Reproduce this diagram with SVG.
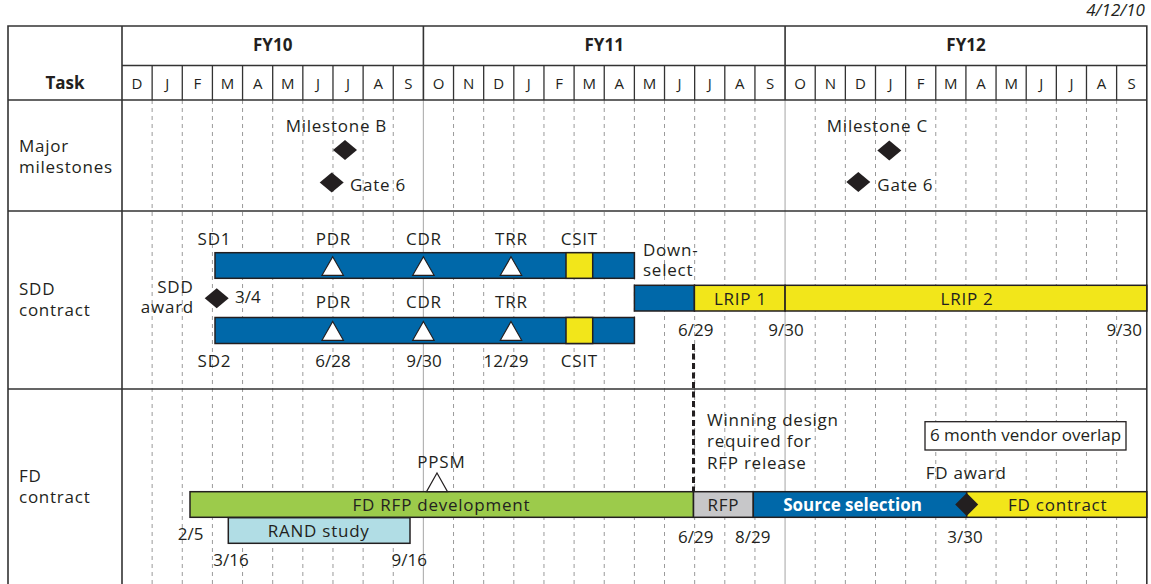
<svg xmlns="http://www.w3.org/2000/svg" width="1151" height="584" viewBox="0 0 1151 584">
<defs>
<style>
.t{font-family:"Open Sans","Noto Sans",sans-serif;fill:#231f20;font-size:17px}
.s{letter-spacing:0.75px}
.c{text-anchor:middle}
.b{font-weight:bold}
.m{font-size:15px}
.w{fill:#ffffff}
.grid{stroke:#9a9a9a;stroke-width:1;stroke-dasharray:4 4;fill:none}
.fy{stroke:#b4b4b4;stroke-width:1.2;fill:none}
.rule{stroke:#333333;stroke-width:1.6;fill:none}
.thin{stroke:#333333;stroke-width:1.3;fill:none}
.bar{stroke:#231f20;stroke-width:1.5}
.blue{fill:#0068a9}
.yel{fill:#f2e61a}
.grn{fill:#9ccb4b}
.gry{fill:#c7c7c9}
.lb{fill:#b1dde5}
.tri{fill:#ffffff;stroke:#231f20;stroke-width:1.2}
.dia{fill:#231f20}
</style>
</defs>
<rect width="1151" height="584" fill="#ffffff"/>

<g id="grid">
<path class="grid" d="M152.14 100V584M182.28 100V584M212.42 100V584M242.56 100V584M272.7 100V584M302.84 100V584M332.98 100V584M363.12 100V584M393.26 100V584M453.54 100V584M483.68 100V584M513.82 100V584M543.96 100V584M574.1 100V584M604.24 100V584M634.38 100V584M664.52 100V584M694.66 100V584M724.8 100V584M754.94 100V584M815.22 100V584M845.36 100V584M875.5 100V584M905.64 100V584M935.78 100V584M965.92 100V584M996.06 100V584M1026.2 100V584M1056.34 100V584M1086.48 100V584M1116.62 100V584"/>
<path class="fy" d="M423.4 100V584M785.08 100V584"/>
</g>

<g id="table">
<path class="rule" d="M8 600V26H1146.8V600"/>
<path class="rule" d="M122 26V600"/>
<path class="rule" d="M122 65.5H1146.8M8 100H1146.8M8 211H1146.8M8 389H1146.8"/>
<path class="rule" d="M423.4 26V100M785.08 26V100"/>
<path class="thin" d="M152.14 65.5V100M182.28 65.5V100M212.42 65.5V100M242.56 65.5V100M272.7 65.5V100M302.84 65.5V100M332.98 65.5V100M363.12 65.5V100M393.26 65.5V100M453.54 65.5V100M483.68 65.5V100M513.82 65.5V100M543.96 65.5V100M574.1 65.5V100M604.24 65.5V100M634.38 65.5V100M664.52 65.5V100M694.66 65.5V100M724.8 65.5V100M754.94 65.5V100M815.22 65.5V100M845.36 65.5V100M875.5 65.5V100M905.64 65.5V100M935.78 65.5V100M965.92 65.5V100M996.06 65.5V100M1026.2 65.5V100M1056.34 65.5V100M1086.48 65.5V100M1116.62 65.5V100"/>
<text class="t" x="1145" y="16" text-anchor="end" font-style="italic" font-size="12.5">4/12/10</text>
<text class="t c b" x="272.7" y="51">FY10</text>
<text class="t c b" x="604.2" y="51">FY11</text>
<text class="t c b" x="966" y="51">FY12</text>
<text class="t c b" x="65" y="89">Task</text>
<g class="t c m">
<text x="137.07" y="89">D</text><text x="167.21" y="89">J</text><text x="197.35" y="89">F</text><text x="227.49" y="89">M</text><text x="257.63" y="89">A</text><text x="287.77" y="89">M</text><text x="317.91" y="89">J</text><text x="348.05" y="89">J</text><text x="378.19" y="89">A</text><text x="408.33" y="89">S</text>
<text x="438.47" y="89">O</text><text x="468.61" y="89">N</text><text x="498.75" y="89">D</text><text x="528.89" y="89">J</text><text x="559.03" y="89">F</text><text x="589.17" y="89">M</text><text x="619.31" y="89">A</text><text x="649.45" y="89">M</text><text x="679.59" y="89">J</text><text x="709.73" y="89">J</text><text x="739.87" y="89">A</text><text x="770.01" y="89">S</text>
<text x="800.15" y="89">O</text><text x="830.29" y="89">N</text><text x="860.43" y="89">D</text><text x="890.57" y="89">J</text><text x="920.71" y="89">F</text><text x="950.85" y="89">M</text><text x="980.99" y="89">A</text><text x="1011.13" y="89">M</text><text x="1041.27" y="89">J</text><text x="1071.41" y="89">J</text><text x="1101.55" y="89">A</text><text x="1131.69" y="89">S</text>
</g>
<text class="t s" x="19" y="152">Major</text>
<text class="t s" x="19" y="173">milestones</text>
<text class="t s" x="19" y="295">SDD</text>
<text class="t s" x="19" y="316">contract</text>
<text class="t s" x="19" y="482">FD</text>
<text class="t s" x="19" y="503">contract</text>
</g>

<g id="milestone-b">
<text class="t s c" x="336.4" y="132">Milestone B</text>
<path class="dia" d="M345 140L357 150L345 160L333 150Z"/>
</g>
<g id="gate6-fy10">
<path class="dia" d="M331.7 172.5L343.7 182.5L331.7 192.5L319.7 182.5Z"/>
<text class="t s" x="350" y="190.5">Gate 6</text>
</g>
<g id="milestone-c">
<text class="t s c" x="877.4" y="132">Milestone C</text>
<path class="dia" d="M889.3 140.5L901.3 150.5L889.3 160.5L877.3 150.5Z"/>
</g>
<g id="gate6-fy12">
<path class="dia" d="M858.3 172L870.3 182L858.3 192L846.3 182Z"/>
<text class="t s" x="877.3" y="190.5">Gate 6</text>
</g>

<g id="sdd-award">
<text class="t s c" x="175.4" y="293">SDD</text>
<text class="t s c" x="167.4" y="313">award</text>
<path class="dia" d="M216.7 288.3L228.7 298.3L216.7 308.3L204.7 298.3Z"/>
<text class="t" x="235" y="303.3">3/4</text>
</g>

<g id="sd1">
<rect class="bar blue" x="215" y="252.7" width="419.4" height="25.6"/>
<rect class="bar yel" x="566" y="252.7" width="26.7" height="25.6"/>
<path class="tri" d="M332.7 256.7L343.4 275.3L322 275.3Z"/>
<path class="tri" d="M423.4 256.7L434.1 275.3L412.7 275.3Z"/>
<path class="tri" d="M511 256.7L521.7 275.3L500.3 275.3Z"/>
<text class="t s c" x="214.4" y="245">SD1</text>
<text class="t s c" x="333.4" y="245">PDR</text>
<text class="t s c" x="423.9" y="245">CDR</text>
<text class="t s c" x="511.4" y="245">TRR</text>
<text class="t s c" x="579.4" y="245">CSIT</text>
</g>

<g id="sd2">
<rect class="bar blue" x="215" y="317.5" width="419.4" height="26"/>
<rect class="bar yel" x="566" y="317.5" width="26.7" height="26"/>
<path class="tri" d="M332.7 321.5L343.4 340.3L322 340.3Z"/>
<path class="tri" d="M423.4 321.5L434.1 340.3L412.7 340.3Z"/>
<path class="tri" d="M511 321.5L521.7 340.3L500.3 340.3Z"/>
<text class="t s c" x="333.4" y="308.3">PDR</text>
<text class="t s c" x="423.9" y="308.3">CDR</text>
<text class="t s c" x="511.4" y="308.3">TRR</text>
<text class="t s c" x="214.4" y="367">SD2</text>
<text class="t c" x="333" y="367">6/28</text>
<text class="t c" x="424" y="367">9/30</text>
<text class="t c" x="506" y="367">12/29</text>
<text class="t s c" x="579.4" y="367">CSIT</text>
</g>

<g id="down-select">
<text class="t s" x="643" y="255.7">Down-</text>
<text class="t s" x="643" y="276">select</text>
<rect class="bar blue" x="634.4" y="285.3" width="60" height="25.7"/>
</g>
<g id="lrip1">
<rect class="bar yel" x="694.4" y="285.3" width="90.7" height="25.7"/>
<text class="t s c" x="740.4" y="305">LRIP 1</text>
</g>
<g id="lrip2">
<rect class="bar yel" x="785.1" y="285.3" width="361.7" height="25.7"/>
<text class="t s c" x="967.1" y="305">LRIP 2</text>
</g>
<text class="t c" x="695.7" y="335.7">6/29</text>
<text class="t c" x="786" y="335.7">9/30</text>
<text class="t c" x="1124.3" y="335.7">9/30</text>

<g id="connectors">
<path d="M693.5 344V491" stroke="#231f20" stroke-width="3" stroke-dasharray="6 3.5" fill="none"/>
</g>

<g id="winning-design">
<text class="t s" x="707" y="425.5">Winning design</text>
<text class="t s" x="707" y="447">required for</text>
<text class="t s" x="707" y="468.5">RFP release</text>
</g>

<g id="vendor-overlap">
<rect x="925" y="421.7" width="201" height="28.3" fill="#ffffff" stroke="#231f20" stroke-width="1.3"/>
<text class="t c" x="1025.5" y="441" font-size="13.9">6 month vendor overlap</text>
</g>

<g id="fd-rfp-development">
<rect class="bar grn" x="190" y="491.7" width="503.5" height="25.6"/>
<text class="t s c" x="441.4" y="511">FD RFP development</text>
</g>
<g id="ppsm">
<text class="t s c" x="441.4" y="468.3">PPSM</text>
<path class="tri" d="M437 473L447.5 491.7L426.5 491.7Z"/>
</g>
<g id="rfp">
<rect class="bar gry" x="693.5" y="491.7" width="59.8" height="25.6"/>
<text class="t s c" x="723.4" y="511">RFP</text>
</g>
<g id="source-selection">
<rect class="bar blue" x="753.3" y="491.7" width="213.4" height="25.6"/>
<text class="t c b w" x="852.5" y="511">Source selection</text>
</g>
<g id="fd-contract">
<rect class="bar yel" x="966.7" y="491.7" width="180.1" height="25.6"/>
<text class="t s c" x="1057.7" y="511">FD contract</text>
</g>
<g id="fd-award">
<text class="t s" x="925.7" y="479">FD award</text>
<path class="dia" d="M966.7 493L978.2 504.5L966.7 516L955.2 504.5Z"/>
</g>
<g id="rand-study">
<rect class="bar lb" x="228.3" y="517.7" width="181.7" height="25.6"/>
<text class="t s c" x="318.7" y="536.7">RAND study</text>
</g>
<text class="t c" x="190.7" y="540">2/5</text>
<text class="t c" x="231" y="565.7">3/16</text>
<text class="t c" x="409.3" y="565.7">9/16</text>
<text class="t c" x="695.7" y="542.7">6/29</text>
<text class="t c" x="752.7" y="542.7">8/29</text>
<text class="t c" x="965" y="542.7">3/30</text>
</svg>
